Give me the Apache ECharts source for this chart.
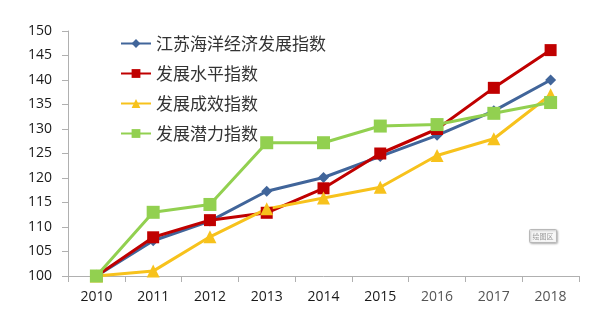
<!DOCTYPE html>
<html>
<head>
<meta charset="utf-8">
<script src="https://cdn.jsdelivr.net/npm/echarts@6/dist/echarts.min.js"></script>
<style>
  html, body { margin: 0; padding: 0; background: #fff; }
  #chart { width: 600px; height: 328px; }
</style>
</head>
<body>
<div id="chart"></div>
<script>
// Years on the category axis
const years = ['2010', '2011', '2012', '2013', '2014', '2015', '2016', '2017', '2018'];

// Index series (2010 = 100)
const marineEconomyIndex = [100, 107.2, 111.2, 117.3, 120.1, 124.4, 128.7, 133.7, 140.0];
const developmentLevelIndex = [100, 107.9, 111.4, 112.9, 117.9, 125.0, 130.0, 138.4, 146.1];
const developmentResultIndex = [100, 101.0, 108.0, 113.7, 115.9, 118.1, 124.6, 128.0, 137.0];
const developmentPotentialIndex = [100, 113.0, 114.6, 127.2, 127.2, 130.6, 130.9, 133.2, 135.4];

const seriesNames = ['江苏海洋经济发展指数', '发展水平指数', '发展成效指数', '发展潜力指数'];

// Y-axis range and step
const yMin = 100, yMax = 150, yStep = 5;

const chart = echarts.init(document.getElementById('chart'));

const numFont = 'Open Sans, Noto Sans, sans-serif';
const cjkFont = 'Noto Sans CJK SC, sans-serif';

function lineSeries(name, data, color, symbol, size) {
  return {
    name: name,
    type: 'line',
    data: data,
    symbol: symbol,
    symbolSize: size,
    lineStyle: { color: color, width: 3 },
    itemStyle: { color: color },
    emphasis: { disabled: true }
  };
}

chart.setOption({
  animation: false,
  backgroundColor: '#ffffff',
  grid: { left: 68, right: 21, top: 31, bottom: 52 },
  legend: {
    orient: 'vertical',
    left: 115,
    top: 29,
    itemWidth: 30,
    itemHeight: 11,
    itemGap: 11,
    textStyle: { fontFamily: cjkFont, fontSize: 17, color: '#333333', lineHeight: 19 },
    data: seriesNames
  },
  xAxis: {
    type: 'category',
    data: years,
    boundaryGap: true,
    axisLine: { lineStyle: { color: '#b0b0b0', width: 1 } },
    axisTick: { show: true, length: 6, interval: 0, lineStyle: { color: '#b0b0b0' } },
    axisLabel: {
      interval: 0,
      fontFamily: numFont,
      fontSize: 14,
      color: '#1a1a1a',
      margin: 14,
      formatter: function (v) {
        return Number(v) >= 2016 ? '{f|' + v + '}' : v;
      },
      rich: { f: { fontFamily: numFont, fontSize: 14, color: '#555555' } }
    }
  },
  yAxis: {
    type: 'value',
    min: yMin,
    max: yMax,
    interval: yStep,
    splitLine: { show: false },
    axisLine: { show: true, lineStyle: { color: '#b0b0b0', width: 1 } },
    axisTick: { show: true, length: 6, lineStyle: { color: '#b0b0b0' } },
    axisLabel: { fontFamily: numFont, fontSize: 14, color: '#1a1a1a', margin: 16 }
  },
  series: [
    lineSeries(seriesNames[0], marineEconomyIndex, '#41659a', 'diamond', 11),
    lineSeries(seriesNames[1], developmentLevelIndex, '#c00000', 'rect', 12),
    lineSeries(seriesNames[2], developmentResultIndex, '#f7c21c', 'triangle', 13),
    lineSeries(seriesNames[3], developmentPotentialIndex, '#92d050', 'rect', 13)
  ],
  graphic: [
    {
      type: 'group',
      left: 529,
      top: 229,
      children: [
        {
          type: 'rect',
          shape: { x: 0, y: 0, width: 27, height: 13, r: 1 },
          style: { fill: '#f7f7f7', stroke: '#b8b8b8', lineWidth: 1, shadowBlur: 2, shadowColor: 'rgba(0,0,0,0.25)', shadowOffsetX: 1, shadowOffsetY: 1 }
        },
        {
          type: 'text',
          x: 13.5,
          y: 6.5,
          style: { text: '绘图区', font: '7px Noto Sans CJK SC', fill: '#999999', align: 'center', verticalAlign: 'middle' }
        }
      ]
    }
  ]
});
</script>
</body>
</html>
